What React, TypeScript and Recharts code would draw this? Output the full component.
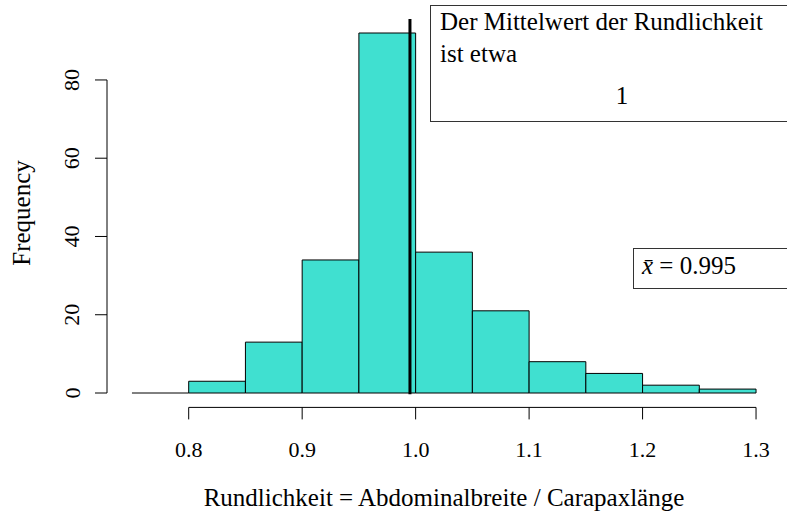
import React from "react";
import { ComposedChart, XAxis, YAxis, ReferenceArea, ReferenceLine, Scatter } from "recharts";

const binLower = [0.75, 0.8, 0.85, 0.9, 0.95, 1.0, 1.05, 1.1, 1.15, 1.2, 1.25];
const binUpper = [0.8, 0.85, 0.9, 0.95, 1.0, 1.05, 1.1, 1.15, 1.2, 1.25, 1.3];
const counts = [0, 3, 13, 34, 92, 36, 21, 8, 5, 2, 1];
const xTicks = [0.8, 0.9, 1.0, 1.1, 1.2, 1.3];
const xTickLabels = ["0.8", "0.9", "1.0", "1.1", "1.2", "1.3"];
const yTicks = [0, 20, 40, 60, 80];
const meanValue = 0.995;
const xDomain = [0.728, 1.322];
const yDomain = [-3.68, 95.68];

const FONT = "'Liberation Serif'";
const FILL = "#40E0D0";

const data = binLower.map((lo, i) => ({ mid: (lo + binUpper[i]) / 2, count: counts[i] }));

const XTick = (props: any) => {
  const { x, y, payload } = props;
  const idx = xTicks.indexOf(payload.value);
  return (
    <text x={x} y={y} textAnchor="middle" dominantBaseline="central" fontFamily={FONT} fontSize={22} fill="#000">
      {idx >= 0 ? xTickLabels[idx] : String(payload.value)}
    </text>
  );
};

const YTick = (props: any) => {
  const { x, y, payload } = props;
  return (
    <text
      x={x}
      y={y}
      textAnchor="middle"
      dominantBaseline="central"
      transform={`rotate(-90, ${x}, ${y})`}
      fontFamily={FONT}
      fontSize={22}
      fill="#000"
    >
      {String(payload.value)}
    </text>
  );
};

const XLabel = (props: any) => {
  const vb = props.viewBox || {};
  return (
    <text x={vb.x + vb.width / 2} y={vb.y + 90} textAnchor="middle" dominantBaseline="central" fontFamily={FONT} fontSize={25} fill="#000">
      Rundlichkeit = Abdominalbreite / Carapaxlänge
    </text>
  );
};

const YLabel = (props: any) => {
  const vb = props.viewBox || {};
  const cx = 21;
  const cy = vb.y + vb.height / 2;
  return (
    <text x={cx} y={cy} textAnchor="middle" dominantBaseline="central" transform={`rotate(-90, ${cx}, ${cy})`} fontFamily={FONT} fontSize={25} fill="#000">
      Frequency
    </text>
  );
};

const lineStyle: React.CSSProperties = { position: "absolute", fontSize: 25, lineHeight: "25px", whiteSpace: "nowrap", fontFamily: FONT };

export default function App() {
  return (
    <div style={{ position: "absolute", left: 0, top: 0, width: 787, height: 512, background: "#fff", fontFamily: FONT, overflow: "hidden" }}>
      <ComposedChart width={787} height={512} data={data} margin={{ top: 18.6, right: 6, bottom: 0, left: 0 }}>
        <XAxis
          dataKey="mid"
          type="number"
          domain={xDomain}
          allowDataOverflow
          ticks={xTicks}
          axisLine={false}
          tickSize={12}
          tickLine={{ stroke: "#000", strokeWidth: 1 }}
          tickMargin={30}
          tick={<XTick />}
          height={104.6}
          interval={0}
          label={<XLabel />}
        />
        <YAxis
          type="number"
          domain={yDomain}
          allowDataOverflow
          ticks={yTicks}
          axisLine={false}
          tickSize={12}
          tickLine={{ stroke: "#000", strokeWidth: 1 }}
          tickMargin={23}
          tick={<YTick />}
          width={107}
          interval={0}
          label={<YLabel />}
        />
        <Scatter dataKey="count" isAnimationActive={false} shape={() => <g />} />
        {binLower.map((lo, i) =>
          counts[i] > 0 ? (
            <ReferenceArea
              key={"b" + i}
              x1={lo}
              x2={binUpper[i]}
              y1={0}
              y2={counts[i]}
              fill={FILL}
              fillOpacity={1}
              stroke="#000"
              strokeWidth={1}
              ifOverflow="visible"
            />
          ) : (
            <ReferenceLine
              key={"b" + i}
              segment={[{ x: lo, y: 0 }, { x: binUpper[i], y: 0 }]}
              stroke="#000"
              strokeWidth={1}
              ifOverflow="visible"
            />
          )
        )}
        <ReferenceLine segment={[{ x: xDomain[0], y: yTicks[0] }, { x: xDomain[0], y: yTicks[yTicks.length - 1] }]} stroke="#000" strokeWidth={1} ifOverflow="visible" />
        <ReferenceLine segment={[{ x: xTicks[0], y: yDomain[0] }, { x: xTicks[xTicks.length - 1], y: yDomain[0] }]} stroke="#000" strokeWidth={1} ifOverflow="visible" />
        <ReferenceLine segment={[{ x: meanValue, y: -0.3 }, { x: meanValue, y: 95.6 }]} stroke="#000" strokeWidth={3} ifOverflow="visible" />
      </ComposedChart>
      <div style={{ position: "absolute", left: 430, top: 5, width: 380, height: 117, border: "1px solid #333", boxSizing: "border-box", background: "#fff" }}>
        <div style={{ ...lineStyle, left: 9, top: 3 }}>Der Mittelwert der Rundlichkeit</div>
        <div style={{ ...lineStyle, left: 9, top: 35 }}>ist etwa</div>
        <div style={{ ...lineStyle, left: 191, top: 77, transform: "translateX(-50%)" }}>1</div>
      </div>
      <div style={{ position: "absolute", left: 633, top: 248, width: 200, height: 41, border: "1px solid #333", boxSizing: "border-box", background: "#fff" }}>
        <div style={{ ...lineStyle, left: 8, top: 4 }}>
          <span style={{ fontStyle: "italic" }}>{"x\u0304"}</span> = 0.995
        </div>
      </div>
    </div>
  );
}
